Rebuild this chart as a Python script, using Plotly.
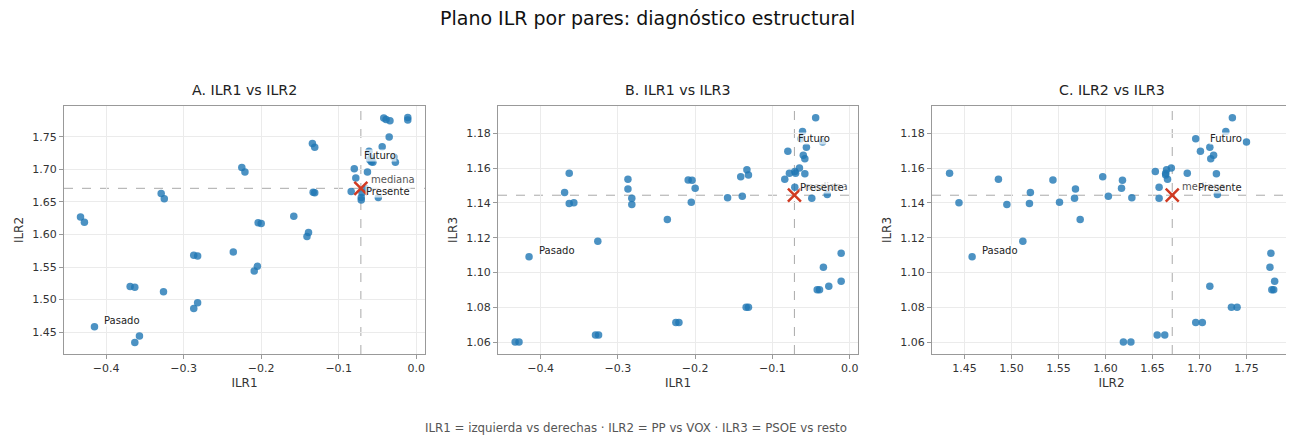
import numpy as np
import plotly.graph_objects as go

# Coordenadas ILR de cada escenario
ilr1 = [-0.433, -0.428, -0.415, -0.363, -0.357, -0.369, -0.363, -0.329, -0.325, -0.326,
        -0.287, -0.282, -0.287, -0.282, -0.236, -0.225, -0.221, -0.209, -0.205, -0.204,
        -0.200, -0.158, -0.141, -0.139, -0.134, -0.131, -0.133, -0.131, -0.080, -0.078,
        -0.084, -0.071, -0.071, -0.049, -0.063, -0.061, -0.058, -0.056, -0.044, -0.035,
        -0.042, -0.039, -0.034, -0.029, -0.027, -0.011, -0.011, -0.060, -0.058, -0.065,
        -0.070]
ilr2 = [1.627, 1.619, 1.458, 1.434, 1.444, 1.520, 1.519, 1.663, 1.655, 1.512,
        1.486, 1.495, 1.568, 1.567, 1.573, 1.703, 1.696, 1.544, 1.551, 1.618,
        1.617, 1.628, 1.597, 1.603, 1.740, 1.734, 1.665, 1.664, 1.701, 1.687,
        1.666, 1.657, 1.653, 1.657, 1.696, 1.728, 1.712, 1.711, 1.735, 1.750,
        1.779, 1.777, 1.775, 1.719, 1.711, 1.780, 1.776, 1.715, 1.718, 1.670,
        1.664]
ilr3 = [1.060, 1.060, 1.109, 1.157, 1.140, 1.146, 1.1396, 1.064, 1.064, 1.118,
        1.1536, 1.139, 1.148, 1.1426, 1.1304, 1.0712, 1.0712, 1.1531, 1.1404, 1.153,
        1.1484, 1.143, 1.155, 1.1438, 1.080, 1.080, 1.159, 1.156, 1.1697, 1.157,
        1.1536, 1.149, 1.158, 1.1427, 1.1768, 1.181, 1.1653, 1.172, 1.189, 1.175,
        1.090, 1.090, 1.103, 1.1448, 1.092, 1.095, 1.111, 1.1674, 1.1567, 1.160,
        1.157]

# Mediana de cada coordenada
mediana = {"ILR1": -0.0715, "ILR2": 1.671, "ILR3": 1.1444}

# Puntos etiquetados (índice en las listas)
etiquetas = {"Pasado": 2, "Futuro": 28, "Presente": 31}

datos = {"ILR1": ilr1, "ILR2": ilr2, "ILR3": ilr3}

W, H = 1286, 431  # la página añade 8 px de margen


def dom_x(a, b):
    return [(a - 8) / W, (b - 8) / W]


def pos_y(py):
    return 1 - (py - 8) / H


paneles = [
    ("A. ILR1 vs ILR2", "ILR1", "ILR2", dom_x(64, 425), [-0.4543, 0.0112], [1.4162, 1.7976],
     [-0.4, -0.3, -0.2, -0.1, 0.0], [1.45, 1.50, 1.55, 1.60, 1.65, 1.70, 1.75], ".1f", ".2f", (4, 6)),
    ("B. ILR1 vs ILR3", "ILR1", "ILR3", dom_x(498, 858), [-0.4552, 0.0108], [1.0531, 1.1957],
     [-0.4, -0.3, -0.2, -0.1, 0.0], [1.06, 1.08, 1.10, 1.12, 1.14, 1.16, 1.18], ".1f", ".2f", (4, 0)),
    ("C. ILR2 vs ILR3", "ILR2", "ILR3", dom_x(932, 1291), [1.4153, 1.7974], [1.0531, 1.1957],
     [1.45, 1.50, 1.55, 1.60, 1.65, 1.70, 1.75], [1.06, 1.08, 1.10, 1.12, 1.14, 1.16, 1.18], ".2f", ".2f", (38, 0)),
]

FUENTE = "DejaVu Sans"
AZUL = "rgba(31,119,180,0.8)"
ROJO = "#d03a22"

fig = go.Figure()
anotaciones = []
formas = []
y_dom = [pos_y(354), pos_y(106)]

for i, (titulo, cx, cy, dom, rx, ry, tx, ty, fx, fy, shift_pres) in enumerate(paneles):
    sufijo = "" if i == 0 else str(i + 1)
    xa, ya = "x" + sufijo, "y" + sufijo
    x = datos[cx]
    y = datos[cy]

    # Puntos de escenarios
    fig.add_trace(go.Scatter(
        x=x, y=y, mode="markers", xaxis=xa, yaxis=ya, showlegend=False,
        marker=dict(size=7.5, color=AZUL, line=dict(width=0)),
        hovertemplate=cx + ": %{x:.3f}<br>" + cy + ": %{y:.3f}<extra></extra>",
    ))

    # Líneas de la mediana
    formas.append(dict(type="line", xref=xa, yref=ya + " domain", x0=mediana[cx], x1=mediana[cx],
                       y0=0, y1=1, line=dict(color="#aaaaaa", width=1, dash="dash"), layer="below"))
    formas.append(dict(type="line", xref=xa + " domain", yref=ya, x0=0, x1=1, y0=mediana[cy],
                       y1=mediana[cy], line=dict(color="#aaaaaa", width=1, dash="dash"), layer="below"))

    # Marca de la mediana
    fig.add_trace(go.Scatter(
        x=[mediana[cx]], y=[mediana[cy]], mode="markers", xaxis=xa, yaxis=ya, showlegend=False,
        marker=dict(symbol="x-thin", size=13, line=dict(color=ROJO, width=2.5)),
        hoverinfo="skip",
    ))

    anotaciones.append(dict(x=mediana[cx], y=mediana[cy], xref=xa, yref=ya, text="mediana",
                            showarrow=False, xanchor="left", yanchor="middle", xshift=8, yshift=9,
                            font=dict(family=FUENTE, size=10, color="#555555")))

    desplaz = {"Pasado": (9, 6), "Futuro": (9, 13), "Presente": shift_pres}
    for nombre, idx in etiquetas.items():
        dx, dy = desplaz[nombre]
        anotaciones.append(dict(x=x[idx], y=y[idx], xref=xa, yref=ya, text=nombre,
                                showarrow=False, xanchor="left", yanchor="middle",
                                xshift=dx, yshift=dy, bgcolor="rgba(255,255,255,0.7)", borderpad=0,
                                font=dict(family=FUENTE, size=10, color="#222222")))

    # Título del panel
    anotaciones.append(dict(x=(dom[0] + dom[1]) / 2, y=pos_y(90), xref="paper", yref="paper",
                            text=titulo, showarrow=False, xanchor="center", yanchor="middle",
                            font=dict(family=FUENTE, size=14.2, color="#222222")))

    eje = dict(showline=True, mirror=True, linecolor="#999999", linewidth=1,
               showgrid=True, gridcolor="#ebebeb", gridwidth=1, zeroline=False,
               ticks="outside", ticklen=4, tickcolor="#999999",
               tickfont=dict(family=FUENTE, size=11, color="#333333"))
    fig.update_layout(**{
        "xaxis" + sufijo: dict(domain=dom, range=rx, tickvals=tx, tickformat=fx, anchor=ya,
                               title=dict(text=cx, font=dict(family=FUENTE, size=12, color="#333333"),
                                          standoff=4), **eje),
        "yaxis" + sufijo: dict(domain=y_dom, range=ry, tickvals=ty, tickformat=fy, anchor=xa,
                               title=dict(text=cy, font=dict(family=FUENTE, size=12, color="#333333"),
                                          standoff=6), **eje),
    })

anotaciones.append(dict(x=(647 - 8) / W, y=pos_y(18), xref="paper", yref="paper",
                        text="Plano ILR por pares: diagnóstico estructural", showarrow=False,
                        xanchor="center", yanchor="middle",
                        font=dict(family=FUENTE, size=19, color="#111111")))
anotaciones.append(dict(x=(636 - 8) / W, y=pos_y(428), xref="paper", yref="paper",
                        text="ILR1 = izquierda vs derechas · ILR2 = PP vs VOX · ILR3 = PSOE vs resto",
                        showarrow=False, xanchor="center", yanchor="middle",
                        font=dict(family=FUENTE, size=11.8, color="#555555")))

fig.update_layout(
    width=W, height=H,
    margin=dict(l=0, r=0, t=0, b=0),
    paper_bgcolor="white", plot_bgcolor="white",
    annotations=anotaciones, shapes=formas,
    showlegend=False,
)

fig.write_html("out.html")
